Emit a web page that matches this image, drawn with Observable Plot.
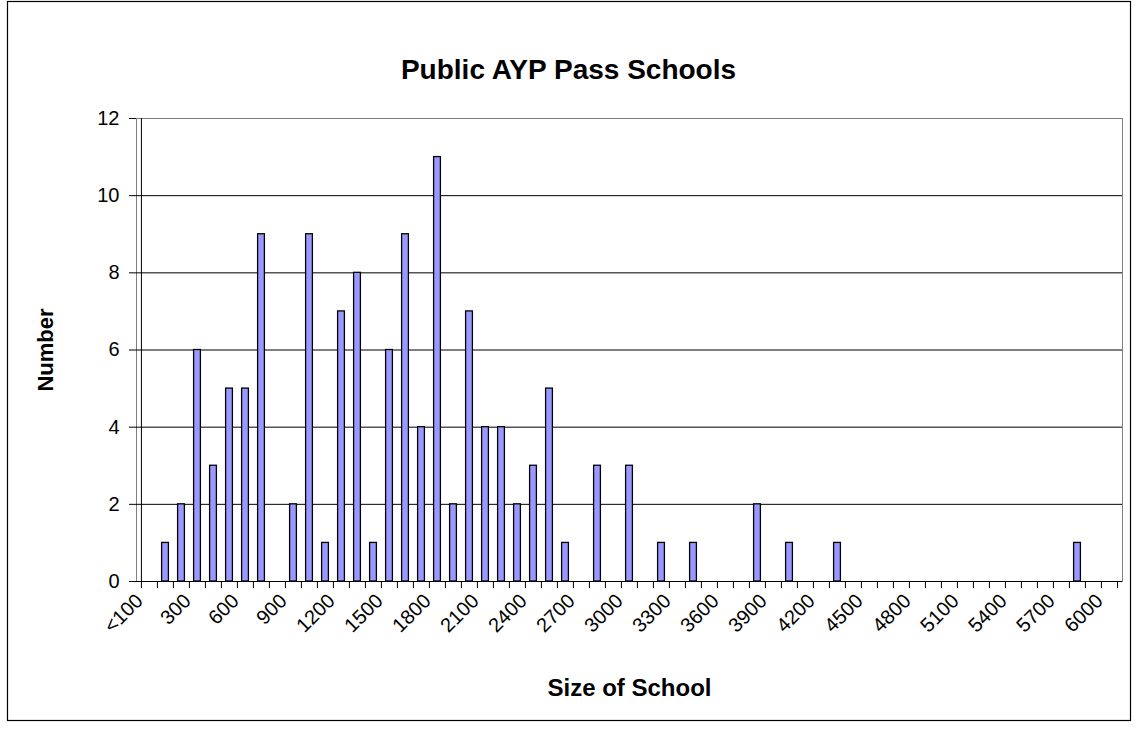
<!DOCTYPE html>
<html>
<head>
<meta charset="utf-8">
<script src="https://cdn.jsdelivr.net/npm/d3@7"></script>
<script src="https://cdn.jsdelivr.net/npm/@observablehq/plot@0.6"></script>
<style>
  body { margin: 0; background: #fff; }
  svg { display: block; }
</style>
</head>
<body>
<div id="chart"></div>
<script>
// School-size bins (step of 100 pupils)
const categories = [
  "<100", "100", "200", "300", "400", "500", "600", "700", "800", "900",
  "1000", "1100", "1200", "1300", "1400", "1500", "1600", "1700", "1800", "1900",
  "2000", "2100", "2200", "2300", "2400", "2500", "2600", "2700", "2800", "2900",
  "3000", "3100", "3200", "3300", "3400", "3500", "3600", "3700", "3800", "3900",
  "4000", "4100", "4200", "4300", "4400", "4500", "4600", "4700", "4800", "4900",
  "5000", "5100", "5200", "5300", "5400", "5500", "5600", "5700", "5800", "5900",
  "6000"
];

// Number of schools in each bin
const counts = [
  0, 1, 2, 6, 3, 5, 5, 9, 0, 2,
  9, 1, 7, 8, 1, 6, 9, 4, 11, 2,
  7, 4, 4, 2, 3, 5, 1, 0, 3, 0,
  3, 0, 1, 0, 1, 0, 0, 0, 2, 0,
  1, 0, 0, 1, 0, 0, 0, 0, 0, 0,
  0, 0, 0, 0, 0, 0, 0, 0, 1, 0,
  0
];

// Labelled bins on the horizontal axis
const tickLabels = [
  "<100", "300", "600", "900", "1200", "1500", "1800", "2100", "2400", "2700",
  "3000", "3300", "3600", "3900", "4200", "4500", "4800", "5100", "5400", "5700", "6000"
];

const yTicks = [0, 2, 4, 6, 8, 10, 12];
const gridValues = [2, 4, 6, 8, 10];

const data = categories.map((size, i) => ({size, count: counts[i]}));

const W = 1136, H = 730;
const mL = 136, mR = 14, mT = 118, mB = 149;
const plotBottom = H - mB;
const plotRight = W - mR;
const bw = (W - mL - mR) / categories.length;
const font = "Arial, 'Liberation Sans', Helvetica, sans-serif";

// outer chart-area border edges
const border = {left: 7, top: 1, right: 1130, bottom: 720};

const chart = Plot.plot({
  width: W,
  height: H,
  marginLeft: mL,
  marginRight: mR,
  marginTop: mT,
  marginBottom: mB,
  style: {fontFamily: font, background: "#fff", color: "#000", overflow: "visible"},
  x: {domain: categories, padding: 0, axis: null},
  y: {domain: [0, 12], axis: null},
  marks: [
    Plot.frame({
      stroke: "#000", strokeWidth: 1.2,
      insetLeft: border.left - mL,
      insetTop: border.top - mT,
      insetRight: plotRight - border.right,
      insetBottom: plotBottom - border.bottom
    }),
    // plot-area border
    Plot.frame({stroke: "#808080"}),
    Plot.ruleY(gridValues, {stroke: "#000", strokeWidth: 1}),
    Plot.barY(data.filter(d => d.count > 0), {
      x: "size", y: "count",
      fill: "#9999ff", stroke: "#000", strokeWidth: 1.3,
      insetLeft: 4.6, insetRight: 4.6
    }),
    Plot.ruleY([0], {stroke: "#000"}),
    Plot.ruleX([categories[0]], {dx: -bw / 2, stroke: "#000"}),
    // y axis
    Plot.axisY({ticks: yTicks, tickSize: 7, tickPadding: 10, fontSize: 20, label: null, tickFormat: d => String(d)}),
    // x tick marks at bin boundaries
    Plot.axisX({ticks: categories, tickSize: 7, tickFormat: () => "", dx: -bw / 2, label: null}),
    Plot.axisX({ticks: [categories[categories.length - 1]], tickSize: 7, tickFormat: () => "", dx: bw / 2, label: null}),
    // x tick labels
    Plot.axisX({ticks: tickLabels, tickSize: 0, tickRotate: -45, tickPadding: 16, fontSize: 20, dx: -10, label: null}),
    // titles
    Plot.text(["Public AYP Pass Schools"], {
      frameAnchor: "top", textAnchor: "middle", lineAnchor: "middle",
      dx: 568 - (mL + plotRight) / 2, dy: 70 - mT, fontSize: 28, fontWeight: "bold"
    }),
    Plot.text(["Number"], {
      frameAnchor: "left", textAnchor: "middle", lineAnchor: "middle",
      dx: 45 - mL, rotate: -90, fontSize: 22, fontWeight: "bold"
    }),
    Plot.text(["Size of School"], {
      frameAnchor: "bottom", textAnchor: "middle", lineAnchor: "middle",
      dy: 688 - plotBottom, fontSize: 24, fontWeight: "bold"
    })
  ]
});

document.getElementById("chart").append(chart);
</script>
</body>
</html>
